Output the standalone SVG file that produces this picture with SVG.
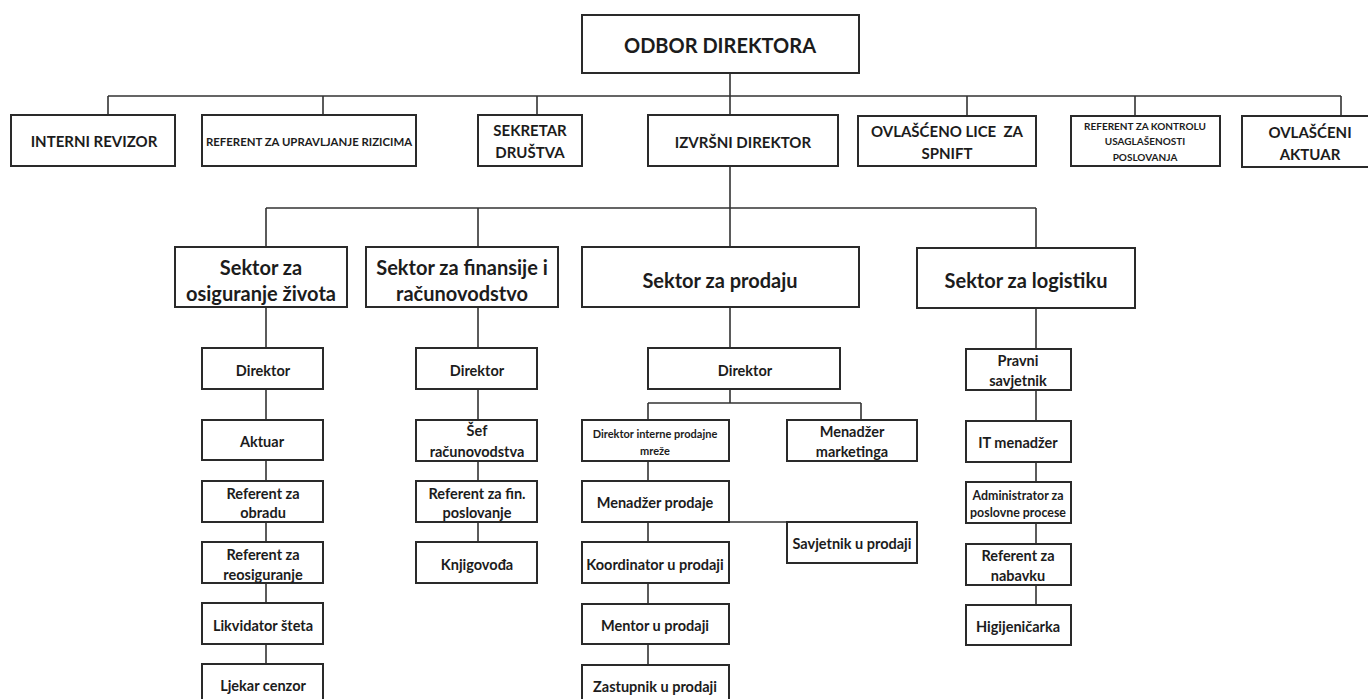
<svg xmlns="http://www.w3.org/2000/svg" width="1368" height="699" viewBox="0 0 1368 699">
<style>
.box{fill:#fff;stroke:#2a2a2a;stroke-width:2}
.conn{fill:none;stroke:#333;stroke-width:1.6}
text{font-family:Lato,"Liberation Sans",sans-serif;font-weight:bold;fill:#1c1c1c;text-anchor:middle;dominant-baseline:central}
.t0{font-size:20px}
.t1{font-size:15px}
.ts{font-size:10px}
.tr{font-size:11.4px}
.t2{font-size:20px}
.t3{font-size:14.5px}
.t3s{font-size:11px}
.t3m{font-size:12.4px}
</style>
<rect width="1368" height="699" fill="#fff"/>
<g id="connectors">
<path class="conn" d="M730,73V115 M108,96H1341 M108,96V115 M323,96V115 M537,96V115 M967,96V116 M1135,96V116 M1341,96V116 M730,166V247 M266,208H1036 M266,208V247 M478,208V247 M1036,208V248"/>
<path class="conn" d="M266,307V348 M266,389V420 M266,460V481 M266,522V542 M266,583V603 M266,644V664"/>
<path class="conn" d="M478,307V348 M478,389V420 M478,461V481 M478,522V542"/>
<path class="conn" d="M730,307V348 M730,389V403 M648,403H861 M648,403V420 M861,403V420 M648,461V481 M648,522V542 M648,583V604 M648,644V665 M729,522H787"/>
<path class="conn" d="M1036,308V349 M1036,390V421 M1036,462V482 M1036,523V544 M1036,585V605"/>
</g>
<g id="odbor"><rect class="box" x="582" y="15" width="277" height="58"/><text class="t0" x="720" y="45">ODBOR DIREKTORA</text></g>
<g id="interni"><rect class="box" x="11" y="115" width="164" height="51"/><text class="t1" x="94" y="141">INTERNI REVIZOR</text></g>
<g id="ref-rizik"><rect class="box" x="202" y="115" width="214" height="51"/><text class="tr" x="309" y="141">REFERENT ZA UPRAVLJANJE RIZICIMA</text></g>
<g id="sekretar"><rect class="box" x="478" y="115" width="104" height="51"/><text class="t1" x="530" y="130">SEKRETAR</text><text class="t1" x="530" y="152">DRUŠTVA</text></g>
<g id="izvrsni"><rect class="box" x="648" y="115" width="190" height="51"/><text class="t1" x="743" y="142">IZVRŠNI DIREKTOR</text></g>
<g id="spnift"><rect class="box" x="858" y="116" width="178" height="50"/><text class="t1" x="947" y="131" style="white-space:pre">OVLAŠĆENO LICE  ZA</text><text class="t1" x="947" y="153">SPNIFT</text></g>
<g id="ref-kontrola"><rect class="box" x="1071" y="116" width="149" height="50"/><text class="ts" x="1145" y="126">REFERENT ZA KONTROLU</text><text class="ts" x="1145" y="141">USAGLAŠENOSTI</text><text class="ts" x="1145" y="157">POSLOVANJA</text></g>
<g id="aktuar-ovl"><rect class="box" x="1242" y="116" width="140" height="51"/><text class="t1" x="1310" y="132">OVLAŠĆENI</text><text class="t1" x="1310" y="154">AKTUAR</text></g>
<g id="sektor-zivot"><rect class="box" x="175" y="247" width="172" height="60"/><text class="t2" x="261" y="267">Sektor za</text><text class="t2" x="261" y="293">osiguranje života</text></g>
<g id="sektor-fin"><rect class="box" x="366" y="247" width="192" height="60"/><text class="t2" x="462" y="267">Sektor za finansije i</text><text class="t2" x="462" y="293">računovodstvo</text></g>
<g id="sektor-prodaja"><rect class="box" x="582" y="247" width="277" height="60"/><text class="t2" x="720" y="280">Sektor za prodaju</text></g>
<g id="sektor-log"><rect class="box" x="917" y="248" width="218" height="60"/><text class="t2" x="1026" y="280">Sektor za logistiku</text></g>
<g id="z-direktor"><rect class="box" x="202" y="348" width="121" height="41"/><text class="t3" x="263" y="370">Direktor</text></g>
<g id="z-aktuar"><rect class="box" x="202" y="420" width="121" height="40"/><text class="t3" x="262" y="441">Aktuar</text></g>
<g id="z-obrada"><rect class="box" x="202" y="481" width="121" height="41"/><text class="t3" x="263" y="493">Referent za</text><text class="t3" x="263" y="512">obradu</text></g>
<g id="z-reos"><rect class="box" x="202" y="542" width="121" height="41"/><text class="t3" x="263" y="554">Referent za</text><text class="t3" x="263" y="574">reosiguranje</text></g>
<g id="z-likv"><rect class="box" x="202" y="603" width="121" height="41"/><text class="t3" x="263" y="625">Likvidator šteta</text></g>
<g id="z-ljekar"><rect class="box" x="202" y="664" width="121" height="42"/><text class="t3" x="263" y="685">Ljekar cenzor</text></g>
<g id="f-direktor"><rect class="box" x="416" y="348" width="121" height="41"/><text class="t3" x="477" y="370">Direktor</text></g>
<g id="f-sef"><rect class="box" x="416" y="420" width="121" height="41"/><text class="t3" x="477" y="430">Šef</text><text class="t3" x="477" y="451">računovodstva</text></g>
<g id="f-ref"><rect class="box" x="416" y="481" width="121" height="41"/><text class="t3" x="477" y="493">Referent za fin.</text><text class="t3" x="477" y="512">poslovanje</text></g>
<g id="f-knjig"><rect class="box" x="416" y="542" width="121" height="41"/><text class="t3" x="477" y="564">Knjigovođa</text></g>
<g id="p-direktor"><rect class="box" x="648" y="348" width="192" height="41"/><text class="t3" x="745" y="370">Direktor</text></g>
<g id="p-interne"><rect class="box" x="582" y="420" width="147" height="41"/><text class="t3s" x="655" y="433">Direktor interne prodajne</text><text class="t3s" x="655" y="450">mreže</text></g>
<g id="p-marketing"><rect class="box" x="787" y="420" width="130" height="41"/><text class="t3" x="852" y="431">Menadžer</text><text class="t3" x="852" y="451">marketinga</text></g>
<g id="p-menadzer"><rect class="box" x="582" y="481" width="147" height="41"/><text class="t3" x="655" y="502">Menadžer prodaje</text></g>
<g id="p-savjetnik"><rect class="box" x="787" y="522" width="130" height="41"/><text class="t3" x="852" y="543">Savjetnik u prodaji</text></g>
<g id="p-koord"><rect class="box" x="582" y="542" width="147" height="41"/><text class="t3" x="655" y="564">Koordinator u prodaji</text></g>
<g id="p-mentor"><rect class="box" x="582" y="604" width="147" height="40"/><text class="t3" x="655" y="625">Mentor u prodaji</text></g>
<g id="p-zastupnik"><rect class="box" x="582" y="665" width="147" height="41"/><text class="t3" x="655" y="686">Zastupnik u prodaji</text></g>
<g id="l-pravni"><rect class="box" x="966" y="349" width="105" height="41"/><text class="t3" x="1018" y="360">Pravni</text><text class="t3" x="1018" y="380">savjetnik</text></g>
<g id="l-it"><rect class="box" x="966" y="421" width="105" height="41"/><text class="t3" x="1018" y="442">IT menadžer</text></g>
<g id="l-admin"><rect class="box" x="966" y="482" width="105" height="41"/><text class="t3m" x="1018" y="495">Administrator za</text><text class="t3m" x="1018" y="512">poslovne procese</text></g>
<g id="l-nabavka"><rect class="box" x="966" y="544" width="105" height="41"/><text class="t3" x="1018" y="555">Referent za</text><text class="t3" x="1018" y="575">nabavku</text></g>
<g id="l-higij"><rect class="box" x="966" y="605" width="105" height="40"/><text class="t3" x="1018" y="626">Higijeničarka</text></g>
</svg>
